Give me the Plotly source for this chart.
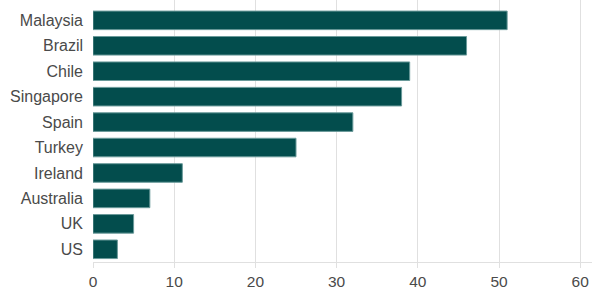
import plotly.graph_objects as go

countries = ["Malaysia", "Brazil", "Chile", "Singapore", "Spain", "Turkey",
             "Ireland", "Australia", "UK", "US"]
values = [51, 46, 39, 38, 32, 25, 11, 7, 5, 3]
x_ticks = [0, 10, 20, 30, 40, 50, 60]

fig = go.Figure(go.Bar(
    x=values, y=countries, orientation="h",
    marker=dict(color="#034d4d", line=dict(color="#6a9a9a", width=1)),
    hoverinfo="x+y",
))

xfont = dict(family="Liberation Sans, Arial, sans-serif", size=15.5, color="#4a4a4a")
yfont = dict(family="Liberation Sans, Arial, sans-serif", size=16, color="#4a4a4a")

fig.update_layout(
    width=592, height=296,
    margin=dict(l=93, r=0, t=0, b=34),
    paper_bgcolor="white", plot_bgcolor="white",
    bargap=0.27,
    showlegend=False,
    font=xfont,
    xaxis=dict(
        range=[0, 61.45], tickvals=x_ticks, showgrid=True, gridcolor="#e0e0e0",
        gridwidth=1, zeroline=False, showline=True, linecolor="#e0e0e0",
        ticks="outside", ticklen=5, tickcolor="#e0e0e0", tickfont=xfont,
        ticklabelstandoff=0,
    ),
    yaxis=dict(
        categoryorder="array", categoryarray=countries,
        range=[9.5, -0.8], showgrid=False, zeroline=False, showline=False,
        ticks="", tickfont=yfont, ticklabelstandoff=9,
    ),
)

fig.write_html("out.html")
